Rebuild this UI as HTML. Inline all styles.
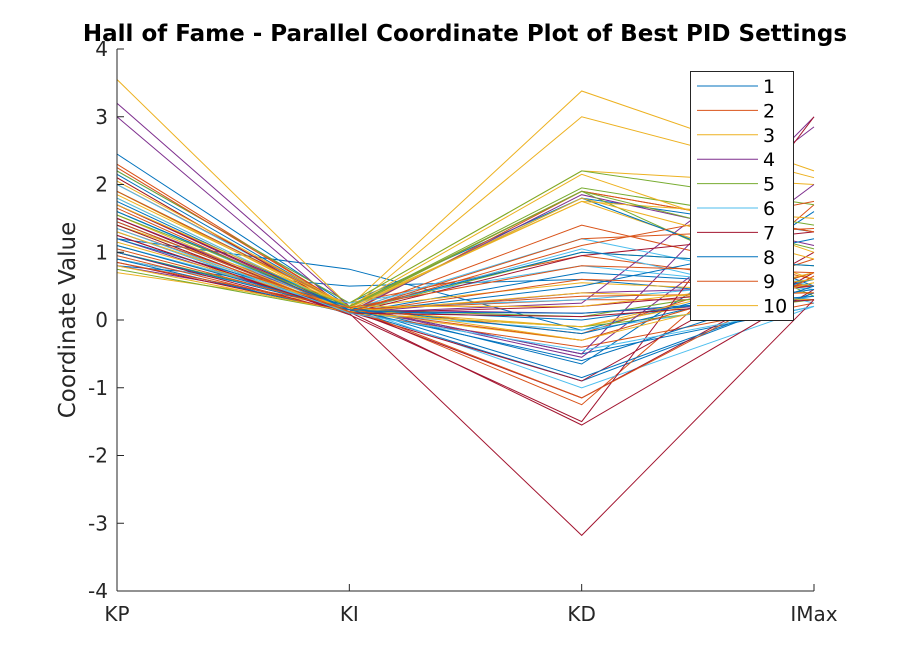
<!DOCTYPE html>
<html><head><meta charset="utf-8"><style>
body{margin:0;background:#fff;}
text{font-family:"DejaVu Sans","Liberation Sans",sans-serif;}
</style></head><body>
<svg id="chart" width="900" height="666">
<rect width="900" height="666" fill="#fff"/>
<g id="lines"></g>
<g id="axes"></g>
</svg>
<script>
const categories = ["KP","KI","KD","IMax"];
const yTicks = [-4,-3,-2,-1,0,1,2,3,4];
const groups = ["1","2","3","4","5","6","7","8","9","10"];
const colors = ["#0072BD","#D95319","#EDB120","#7E2F8E","#77AC30","#4DBEEE","#A2142F","#0072BD","#D95319","#EDB120"];
const rowGroup = [0,0,0,0,0,0,0,1,1,1,1,1,1,1,2,2,2,2,2,2,2,3,3,3,3,3,3,4,4,4,4,4,4,5,5,5,5,5,5,6,6,6,6,6,6,6,7,7,7,7,7,7,8,8,8,8,8,8,9,9,9,9,9,9,0,1,2,6,7,8,4,5];
const valKP  = [2.45,1.6,0.8,1.2,2.2,1.5,1.9,2.3,1.7,1.0,2.0,1.3,0.9,1.5,3.55,1.8,0.7,2.1,1.4,1.1,1.9,3.2,3.0,1.5,0.8,1.7,1.2,2.2,1.9,1.0,1.6,0.75,1.4,1.1,1.8,0.9,1.3,2.0,1.6,1.5,0.85,1.25,1.7,1.0,2.1,1.4,1.75,1.2,0.9,2.15,1.45,1.1,1.9,1.35,0.95,1.65,2.25,1.05,1.85,1.3,0.8,1.55,1.15,2.05,1.0,1.45,1.7,1.25,1.6,0.85,1.55,1.35];
const valKI  = [0.2,0.15,0.5,0.75,0.25,0.1,0.2,0.18,0.12,0.15,0.2,0.1,0.25,0.1,0.2,0.15,0.2,0.12,0.25,0.18,0.15,0.2,0.1,0.15,0.2,0.12,0.1,0.25,0.2,0.18,0.15,0.12,0.1,0.2,0.15,0.25,0.1,0.18,0.12,0.1,0.12,0.08,0.15,0.1,0.12,0.1,0.15,0.2,0.1,0.18,0.12,0.15,0.2,0.15,0.1,0.12,0.18,0.15,0.2,0.15,0.12,0.1,0.18,0.2,0.15,0.12,0.2,0.1,0.15,0.18,0.2,0.1];
const valKD  = [-0.65,-0.9,0.6,-0.15,1.8,0.7,-0.5,-1.25,1.4,0.3,-0.2,1.9,0.95,-0.4,3.38,3.0,1.75,-0.3,2.2,0.55,-0.1,-0.5,0.25,0.1,-0.55,1.85,0.4,2.2,1.95,1.9,0.05,1.0,-0.1,-1.0,1.2,0.8,-0.15,0.3,1.05,-3.18,-1.55,-1.5,-1.15,0.95,-0.9,0.2,1.8,-0.85,0.5,-0.2,0.1,1.0,1.9,-0.3,0.6,1.1,-1.15,0.35,-0.3,1.8,0.4,-0.1,1.75,0.2,0.0,1.2,2.15,0.05,-0.6,0.8,1.9,-0.45];
const valIMax = [1.6,0.4,0.3,0.7,1.3,0.5,0.2,1.7,0.6,0.3,0.9,1.3,0.5,0.25,2.2,2.1,0.6,0.7,2.0,0.4,0.55,3.0,2.85,0.3,2.0,1.1,0.5,1.7,1.4,0.35,0.6,0.8,0.3,0.2,0.5,0.45,0.35,0.6,0.25,0.3,0.45,3.0,0.7,1.3,1.0,0.5,0.5,0.4,1.2,0.6,0.35,0.8,1.3,0.7,0.5,1.75,0.65,0.4,0.55,0.9,0.3,0.7,1.5,0.6,0.45,1.35,1.0,0.3,0.5,0.7,1.05,0.2];

const NS='http://www.w3.org/2000/svg';
const x0=117,x1=814,yTop=49,yBot=591;
function xScale(i){return x0+i*(x1-x0)/(categories.length-1);}
function yScale(v){return yBot-(v+4)*(yBot-yTop)/8;}
function mk(tag,attrs,parent){const e=document.createElementNS(NS,tag);for(const k in attrs)e.setAttribute(k,attrs[k]);parent.appendChild(e);return e;}

const lg=document.getElementById('lines');
for(let r=0;r<rowGroup.length;r++){
  const vals=[valKP[r],valKI[r],valKD[r],valIMax[r]];
  const pts=vals.map((v,i)=>xScale(i).toFixed(1)+','+yScale(v).toFixed(1)).join(' ');
  const p=mk('polyline',{points:pts,fill:'none',stroke:colors[rowGroup[r]],'stroke-width':1},lg);
  
  
}

const ax=document.getElementById('axes');
let e=mk('line',{x1:x0,y1:yTop,x2:x0,y2:yBot,stroke:'#262626','stroke-width':1},ax);


e=mk('line',{x1:x0,y1:yBot,x2:x1,y2:yBot,stroke:'#262626','stroke-width':1},ax);


for(let i=1;i<categories.length;i++){
  e=mk('line',{x1:xScale(i),y1:yBot,x2:xScale(i),y2:yBot-7,stroke:'#262626'},ax);
  
  
}
categories.forEach((c,i)=>{
  const t=mk('text',{x:xScale(i),y:621,'text-anchor':'middle','font-size':20,fill:'#262626'},ax);
  t.textContent=c;
  
  
});
yTicks.forEach(v=>{
  const l=mk('line',{x1:x0,y1:yScale(v),x2:x0+7,y2:yScale(v),stroke:'#262626'},ax);
  
  
  const t=mk('text',{x:x0-9,y:yScale(v)+7,'text-anchor':'end','font-size':20,fill:'#262626'},ax);
  t.textContent=String(v);
  
  
});
let t=mk('text',{x:0,y:0,transform:'translate(75,320) rotate(-90)','text-anchor':'middle','font-size':23,fill:'#262626'},ax);
t.textContent='Coordinate Value';


t=mk('text',{x:465,y:41,'text-anchor':'middle','font-size':23,'font-weight':'bold',fill:'#000'},ax);
t.textContent='Hall of Fame - Parallel Coordinate Plot of Best PID Settings';



const leg=mk('g',{},ax);


const lb=mk('rect',{x:690.5,y:71.5,width:103,height:249,fill:'#fff',stroke:'#262626','stroke-width':1},leg);


groups.forEach((g,i)=>{
  const y=86+i*24.4;
  const ln=mk('line',{x1:697,y1:y,x2:758,y2:y,stroke:colors[i],'stroke-width':1},leg);
  
  
  const tx=mk('text',{x:763,y:y+7,'font-size':19,fill:'#000'},leg);
  tx.textContent=g;
  
  
});
</script>
</body></html>
